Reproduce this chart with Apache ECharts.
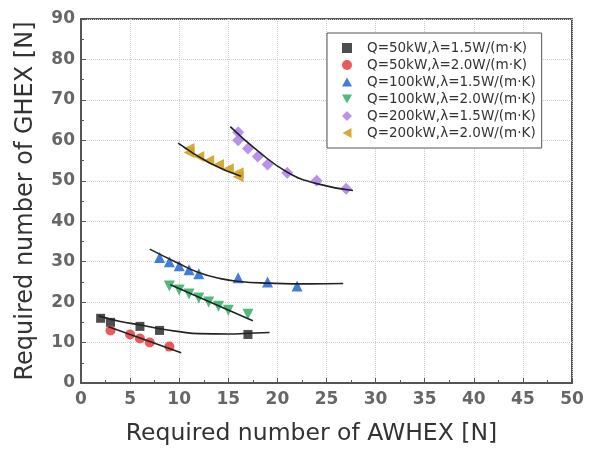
<!DOCTYPE html>
<html>
<head>
<meta charset="utf-8">
<script src="https://cdn.jsdelivr.net/npm/echarts@6/dist/echarts.min.js"></script>
<style>
  html, body { margin: 0; padding: 0; background: #fff; }
  #chart { width: 597px; height: 451px; }
</style>
</head>
<body>
<div id="chart"></div>
<script>
/* measured points, [AWHEX, GHEX] */
const q50l15 = [[2, 16], [3, 15], [6, 14], [8, 13], [17, 12]]
const q50l20 = [[3, 13], [5, 12], [6, 11], [7, 10], [9, 9]]
const q100l15 = [[8, 31], [9, 30], [10, 29], [11, 28], [12, 27], [16, 26], [19, 25], [22, 24]]
const q100l20 = [[9, 24], [10, 23], [11, 22], [12, 21], [13, 20], [14, 19], [15, 18], [17, 17]]
const q200l15 = [[16, 62], [16, 60], [17, 58], [18, 56], [19, 54], [21, 52], [24, 50], [27, 48]]
const q200l20 = [[11, 58], [11, 57], [12, 56], [13, 55], [14, 54], [15, 53], [16, 52], [16, 51]]

/* fitted curves */
const fit50l15 = [[1.8, 16.6], [4, 15.2], [6, 14.4], [8, 13.4], [10, 12.7], [12, 12.2], [15, 12.1], [17, 12.3], [19.2, 12.5]]
const fit50l20 = [[2.8, 13.9], [10.2, 7.5]]
const fit100l15 = [[7, 33.1], [9.9, 29.6], [11.9, 27.4], [14.2, 25.8], [16.1, 25.1], [19.1, 24.7], [23.3, 24.5], [26.7, 24.6]]
const fit100l20 = [[9.1, 24.3], [17.5, 15.4]]
const fit200l15 = [[15.2, 63.4], [18, 57.4], [21.1, 52.0], [24, 49.3], [27.7, 47.6]]
const fit200l20 = [[9.9, 59.3], [13.1, 54.4], [16.3, 51.1]]

const names = [
  'Q=50kW,λ=1.5W/(m·K)',
  'Q=50kW,λ=2.0W/(m·K)',
  'Q=100kW,λ=1.5W/(m·K)',
  'Q=100kW,λ=2.0W/(m·K)',
  'Q=200kW,λ=1.5W/(m·K)',
  'Q=200kW,λ=2.0W/(m·K)'
]
const points = [q50l15, q50l20, q100l15, q100l20, q200l15, q200l20]
const fits = [fit50l15, fit50l20, fit100l15, fit100l20, fit200l15, fit200l20]

const colors = ['#3a3a3a', '#e8474a', '#2e6fd8', '#3db36c', '#b386ec', '#d2a11e']
const symbols = ['rect', 'circle', 'triangle', 'triangle', 'diamond', 'triangle']
const rotates = [0, 0, 0, 180, 0, 90]
const sizes = [9, 10, 11, 11, 12, 11]
// legend icons drawn as paths so the rotated triangles show right
const legendIcons = [
  'rect',
  'circle',
  'path://M5,0 L10,9 L0,9 Z',
  'path://M0,0 L10,0 L5,9 Z',
  'path://M5,0 L10,5 L5,10 L0,5 Z',
  'path://M0,5 L9,0 L9,10 Z'
]

const chart = echarts.init(document.getElementById('chart'))

const tickFont = { fontFamily: 'DejaVu Sans', fontSize: 17, fontWeight: 'bold', color: '#666' }

const series = []
points.forEach((d, i) => {
  series.push({
    name: names[i],
    type: 'scatter',
    data: d,
    symbol: symbols[i],
    symbolRotate: rotates[i],
    symbolSize: sizes[i],
    itemStyle: { color: colors[i], opacity: 0.9 },
    z: 2
  })
})
fits.forEach((d, i) => {
  series.push({
    type: 'line',
    data: d,
    smooth: d.length > 2,
    showSymbol: false,
    symbol: 'none',
    lineStyle: { color: '#222', width: 1.6 },
    z: 3,
    silent: true
  })
})

const option = {
  animation: false,
  grid: {
    left: 81, top: 19, right: 25, bottom: 68,
    show: true, borderColor: '#555', borderWidth: 2
  },
  legend: {
    data: names.map((n, i) => ({ name: n, icon: legendIcons[i] })),
    orient: 'vertical',
    left: 327,
    top: 33,
    padding: [8, 6, 8, 15],
    itemWidth: 10,
    itemHeight: 10,
    itemGap: 3,
    symbolRotate: 0,
    borderColor: '#555',
    borderWidth: 1,
    backgroundColor: '#fff',
    textStyle: { fontFamily: 'DejaVu Sans', fontSize: 13.5, color: '#333', lineHeight: 14, padding: [0, 0, 0, 10] }
  },
  xAxis: {
    type: 'value',
    min: 0, max: 50, interval: 5,
    name: 'Required number of AWHEX [N]',
    nameLocation: 'middle',
    nameGap: 39,
    nameTextStyle: { fontFamily: 'DejaVu Sans', fontSize: 23.5, color: '#333', padding: [0, 30, 0, 0] },
    axisLine: { show: true, lineStyle: { color: '#555', width: 2 } },
    axisTick: { show: true, inside: true, length: 5, lineStyle: { color: '#555' } },
    minorTick: { show: true, splitNumber: 2, length: 3, lineStyle: { color: '#555' } },
    axisLabel: Object.assign({ margin: 8 }, tickFont),
    splitLine: { show: true, lineStyle: { color: '#ccc', type: 'dotted' } }
  },
  yAxis: {
    type: 'value',
    min: 0, max: 90, interval: 10,
    name: 'Required number of GHEX [N]',
    nameLocation: 'middle',
    nameGap: 43,
    nameTextStyle: { fontFamily: 'DejaVu Sans', fontSize: 24, color: '#333' },
    axisLine: { show: true, lineStyle: { color: '#555', width: 2 } },
    axisTick: { show: true, inside: true, length: 5, lineStyle: { color: '#555' } },
    minorTick: { show: true, splitNumber: 2, length: 3, lineStyle: { color: '#555' } },
    axisLabel: Object.assign({ margin: 6 }, tickFont),
    splitLine: { show: true, lineStyle: { color: '#ccc', type: 'dotted' } }
  },
  series: series
}

chart.setOption(option)
</script>
</body>
</html>
